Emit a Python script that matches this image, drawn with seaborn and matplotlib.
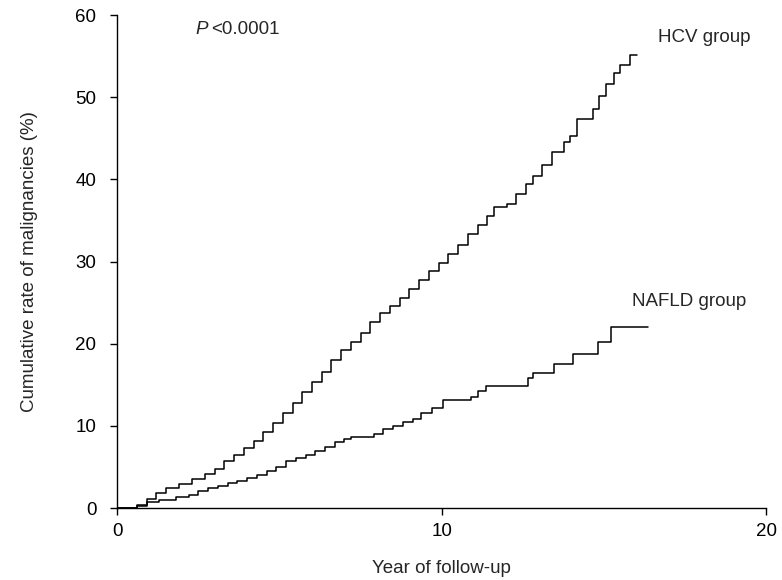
import numpy as np
import pandas as pd
import seaborn as sns
import matplotlib
matplotlib.use("Agg")
from matplotlib import pyplot as plt

# step points (year, cumulative %)
hcv_years = [0.0, 0.3, 0.6, 0.9, 1.2, 1.5, 1.9, 2.3, 2.7, 3.0, 3.3, 3.6, 3.9,
             4.2, 4.5, 4.8, 5.1, 5.4, 5.7, 6.0, 6.3, 6.6, 6.9, 7.2, 7.5, 7.8,
             8.1, 8.4, 8.7, 9.0, 9.3, 9.6, 9.9, 10.2, 10.5, 10.8, 11.1, 11.4,
             11.6, 12.0, 12.3, 12.6, 12.8, 13.1, 13.4, 13.75, 13.95, 14.15,
             14.65, 14.85, 15.05, 15.3, 15.5, 15.8, 16.0]
hcv_rate = [0.0, 0.0, 0.4, 1.1, 1.8, 2.4, 2.9, 3.5, 4.1, 4.8, 5.7, 6.5, 7.3,
            8.2, 9.3, 10.4, 11.6, 12.8, 14.1, 15.3, 16.6, 18.0, 19.2, 20.2,
            21.3, 22.6, 23.7, 24.6, 25.6, 26.7, 27.8, 28.8, 29.8, 30.9, 32.0,
            33.3, 34.4, 35.5, 36.6, 37.0, 38.2, 39.5, 40.4, 41.8, 43.3, 44.6,
            45.3, 47.3, 48.6, 50.2, 51.6, 53.0, 53.9, 55.1, 55.1]

nafld_years = [0.0, 0.3, 0.6, 0.9, 1.3, 1.8, 2.2, 2.5, 2.8, 3.1, 3.4, 3.7,
               4.0, 4.3, 4.6, 4.9, 5.2, 5.5, 5.8, 6.1, 6.4, 6.7, 7.0, 7.2,
               7.9, 8.2, 8.5, 8.8, 9.1, 9.35, 9.7, 10.05, 10.9, 11.1, 11.35,
               12.65, 12.8, 13.47, 14.05, 14.8, 15.22, 16.36]
nafld_rate = [0.0, 0.0, 0.3, 0.7, 1.0, 1.3, 1.6, 2.1, 2.4, 2.7, 3.0, 3.3,
              3.7, 4.0, 4.5, 5.0, 5.7, 6.1, 6.5, 6.9, 7.4, 8.0, 8.4, 8.6,
              9.0, 9.6, 10.0, 10.5, 10.9, 11.6, 12.2, 13.1, 13.5, 14.3, 14.8,
              15.8, 16.4, 17.5, 18.8, 20.2, 22.0, 22.0]

groups = ["HCV group", "NAFLD group"]

df = pd.concat([
    pd.DataFrame({"year": hcv_years, "rate": hcv_rate, "group": groups[0]}),
    pd.DataFrame({"year": nafld_years, "rate": nafld_rate, "group": groups[1]}),
])

sns.set_style("ticks")
plt.rcParams["font.family"] = ["Liberation Sans", "DejaVu Sans"]
FS = 13.5

fig = plt.figure(figsize=(7.82, 5.8), dpi=100)
ax = fig.add_axes([0.150, 0.124, 0.830, 0.850])

sns.lineplot(data=df, x="year", y="rate", hue="group", units="group",
             estimator=None, palette=["black", "black"], legend=False,
             drawstyle="steps-post", linewidth=1.1, ax=ax)

ax.set_xlim(0, 20)
ax.set_ylim(0, 60)
ax.set_xticks([0, 10, 20])
ax.set_yticks(range(0, 61, 10))
ax.tick_params(labelsize=FS, length=5, width=1, colors="black")
ax.tick_params(axis="y", pad=10)
ax.tick_params(axis="x", pad=6)
sns.despine(ax=ax)
for s in ("left", "bottom"):
    ax.spines[s].set_linewidth(1.0)
    ax.spines[s].set_color("black")

ax.set_xlabel("Year of follow-up", fontsize=FS, labelpad=14)
ax.set_ylabel("Cumulative rate of malignancies (%)", fontsize=FS, labelpad=27)

ax.text(2.4, 58.3, "P", style="italic", fontsize=FS, va="center")
ax.text(2.9, 58.3, "<0.0001", fontsize=FS, va="center")
ax.text(16.65, 57.3, groups[0], fontsize=FS, va="center")
ax.text(15.85, 25.2, groups[1], fontsize=FS, va="center")

fig.savefig("out.png", dpi=100)
